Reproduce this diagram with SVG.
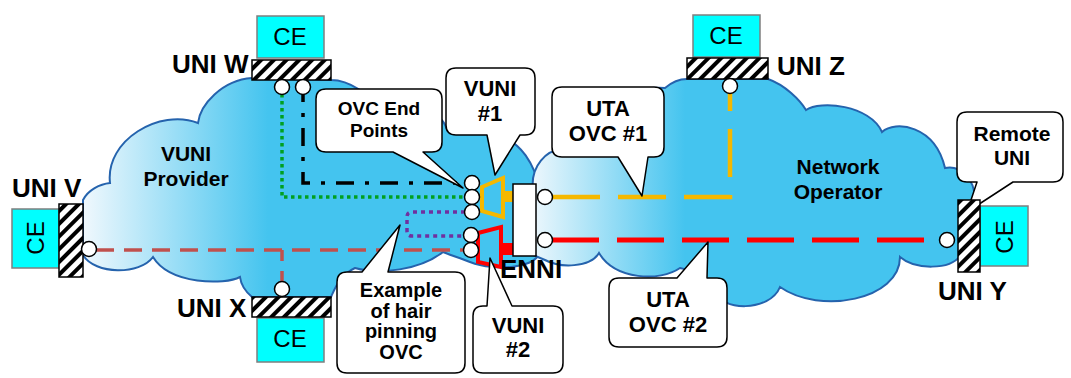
<svg xmlns="http://www.w3.org/2000/svg" width="1071" height="378" viewBox="0 0 1071 378">
<defs>
<linearGradient id="gL" gradientUnits="userSpaceOnUse" x1="83" y1="0" x2="268" y2="0"><stop offset="0" stop-color="#f0f8fd"/><stop offset="1" stop-color="#44c4ef"/></linearGradient>
<linearGradient id="gR" gradientUnits="userSpaceOnUse" x1="535" y1="0" x2="685" y2="0"><stop offset="0" stop-color="#eaf6fc"/><stop offset="1" stop-color="#44c4ef"/></linearGradient>
<pattern id="hatch" patternUnits="userSpaceOnUse" width="9" height="9" patternTransform="rotate(45)"><rect width="9" height="9" fill="#fff"/><rect width="4" height="9" fill="#000"/></pattern>
<style>
.cloud{stroke:#2563ad;stroke-width:2}
.hatch{fill:url(#hatch);stroke:#000;stroke-width:1.5}
.ce{fill:#00ffff;stroke:#7f7f7f;stroke-width:1.5}
.cet{font-family:"Liberation Sans",Arial,sans-serif;font-size:24px;fill:#000;text-anchor:middle}
.lbl{font-family:"Liberation Sans",Arial,sans-serif;font-size:26px;font-weight:bold;fill:#000}
.t{font-family:"Liberation Sans",Arial,sans-serif;font-weight:bold;fill:#000;text-anchor:middle}
.call{fill:#fff;stroke:#000;stroke-width:1.5;stroke-linejoin:round}
.ep{fill:#fff;stroke:#000;stroke-width:1.5}
.ln{fill:none}
</style>
</defs>
<rect width="1071" height="378" fill="#fff"/>

<g id="cloud-vuni-provider">
<path class="cloud" fill="url(#gL)" d="M83,200 C88,190 100,184 110,183 C105,140 160,108 198,123 C200,105 222,80 252,78 L331,80 C350,80 370,95 380,110 C400,100 440,105 447,130 C465,118 495,125 500,138 C520,140 535,165 540,190 L540,250 C540,268 495,272 470,262 C460,258 450,255 443,252 C420,270 380,275 355,268 C340,275 335,288 331,297 L252,297 C246,292 241,285 240,277 C225,285 170,285 153,257 C140,275 95,275 83,255 Z"/>
<text class="t" x="186" y="161" font-size="21">VUNI</text>
<text class="t" x="186" y="186" font-size="21">Provider</text>
</g>

<g id="cloud-network-operator">
<path class="cloud" fill="url(#gR)" d="M533,190 C530,165 548,150 560,150 C570,120 620,85 665,88 C672,82 680,79 687,79 L768,79 C785,85 800,100 806,110 C820,100 870,105 882,132 C895,120 935,125 945,168 C960,165 975,178 975,200 C978,225 975,250 960,256 C950,270 915,270 900,257 C900,300 820,315 780,287 C770,312 720,312 715,290 C705,275 690,270 680,268 C660,282 615,280 599,253 C590,268 560,268 545,260 L533,255 Z"/>
<text class="t" x="838" y="174" font-size="21">Network</text>
<text class="t" x="838" y="199" font-size="21">Operator</text>
</g>

<g id="connectors" class="ln">
<path d="M282,94 V197 H465" stroke="#00a020" stroke-width="3.5" stroke-dasharray="3.5 3.5"/>
<path d="M303,94 V183 H465" stroke="#000" stroke-width="3.5" stroke-dasharray="18 11 4 11" stroke-dashoffset="10"/>
<path d="M465,212 H412 Q407,212 407,217 V231 Q407,236 412,236 H463" stroke="#7030a0" stroke-width="3.5" stroke-dasharray="4 4"/>
<path d="M96,250 H463" stroke="#c0504d" stroke-width="3.5" stroke-dasharray="18 10"/>
<path d="M282,250 V282" stroke="#c0504d" stroke-width="3.5" stroke-dasharray="11 10"/>
<path d="M552,197 H730 V93" stroke="#f5b800" stroke-width="4.5" stroke-dasharray="48 18"/>
<path d="M552,240 H940" stroke="#ff0000" stroke-width="5" stroke-dasharray="47 18"/>
</g>

<g id="vuni1">
<rect x="502" y="191" width="11" height="11" fill="#f5b800"/>
<polygon points="482,187 503,178 503,217 482,211" fill="#44c4ef" stroke="#f5b800" stroke-width="4"/>
</g>
<g id="vuni2">
<rect x="500" y="243" width="13" height="12" fill="#ff0000"/>
<polygon points="478,233 501,227 501,267 478,262" fill="#44c4ef" stroke="#ff0000" stroke-width="4"/>
</g>

<g id="enni">
<rect x="513" y="184" width="23" height="72" fill="#fff" stroke="#000" stroke-width="1.5"/>
<text class="lbl" x="500" y="278" font-size="25">ENNI</text>
</g>

<g id="callout-ovc-end-points">
<path class="call" d="M326,89 H432 Q442,89 442,99 V142 Q442,152 432,152 H423 L463,188 L393,152 H326 Q316,152 316,142 V99 Q316,89 326,89 Z"/>
<text class="t" x="379" y="115" font-size="19">OVC End</text>
<text class="t" x="379" y="137" font-size="19">Points</text>
</g>
<g id="callout-vuni1">
<path class="call" d="M456,68 H525 Q535,68 535,78 V125 Q535,135 525,135 H520 L495,175 L487,135 H456 Q446,135 446,125 V78 Q446,68 456,68 Z"/>
<text class="t" x="490" y="96" font-size="22">VUNI</text>
<text class="t" x="490" y="121" font-size="22">#1</text>
</g>
<g id="callout-uta-ovc1">
<path class="call" d="M562,87 H654 Q664,87 664,97 V147 Q664,157 654,157 H648 L642,196 L618,157 H562 Q552,157 552,147 V97 Q552,87 562,87 Z"/>
<text class="t" x="608" y="116" font-size="22">UTA</text>
<text class="t" x="608" y="141" font-size="22">OVC #1</text>
</g>
<g id="callout-remote-uni">
<path class="call" d="M967,112 H1053 Q1063,112 1063,122 V172 Q1063,182 1053,182 H1013 L967,212 L977,182 H967 Q957,182 957,172 V122 Q957,112 967,112 Z"/>
<text class="t" x="1012" y="141" font-size="21">Remote</text>
<text class="t" x="1012" y="165" font-size="21">UNI</text>
</g>
<g id="callout-example">
<path class="call" d="M347,272 H362 L400,225 L388,272 H455 Q465,272 465,282 V363 Q465,373 455,373 H347 Q337,373 337,363 V282 Q337,272 347,272 Z"/>
<text class="t" x="401" y="297" font-size="20">Example</text>
<text class="t" x="401" y="318" font-size="20">of hair</text>
<text class="t" x="401" y="338" font-size="20">pinning</text>
<text class="t" x="401" y="359" font-size="20">OVC</text>
</g>
<g id="callout-vuni2">
<path class="call" d="M483,306 H487 L490,258 L512,306 H553 Q563,306 563,316 V363 Q563,373 553,373 H483 Q473,373 473,363 V316 Q473,306 483,306 Z"/>
<text class="t" x="518" y="333" font-size="22">VUNI</text>
<text class="t" x="518" y="357" font-size="22">#2</text>
</g>
<g id="callout-uta-ovc2">
<path class="call" d="M619,278 H677 L708,242 L707,278 H717 Q727,278 727,288 V337 Q727,347 717,347 H619 Q609,347 609,337 V288 Q609,278 619,278 Z"/>
<text class="t" x="668" y="307" font-size="22">UTA</text>
<text class="t" x="668" y="332" font-size="22">OVC #2</text>
</g>

<g id="uni-w">
<rect class="ce" x="257" y="16" width="67" height="42"/>
<text class="cet" x="290" y="45">CE</text>
<rect class="hatch" x="252" y="60" width="79" height="20"/>
<text class="lbl" x="172" y="73">UNI W</text>
</g>
<g id="uni-x">
<rect class="ce" x="257" y="318" width="67" height="44"/>
<text class="cet" x="290" y="347">CE</text>
<rect class="hatch" x="252" y="297" width="79" height="20"/>
<text class="lbl" x="177" y="317">UNI X</text>
</g>
<g id="uni-v">
<rect class="ce" x="12" y="209" width="47" height="59"/>
<text class="cet" transform="translate(44,238) rotate(-90)">CE</text>
<rect class="hatch" x="59" y="204" width="24" height="73"/>
<text class="lbl" x="12" y="197">UNI V</text>
</g>
<g id="uni-z">
<rect class="ce" x="693" y="15" width="67" height="42"/>
<text class="cet" x="726" y="44">CE</text>
<rect class="hatch" x="687" y="58" width="81" height="21"/>
<text class="lbl" x="777" y="75">UNI Z</text>
</g>
<g id="uni-y">
<rect class="ce" x="980" y="206" width="48" height="60"/>
<text class="cet" transform="translate(1013,237) rotate(-90)">CE</text>
<rect class="hatch" x="958" y="200" width="22" height="72"/>
<text class="lbl" x="938" y="300">UNI Y</text>
</g>

<g id="endpoints">
<circle class="ep" cx="282" cy="87" r="7.5"/>
<circle class="ep" cx="303" cy="87" r="7.5"/>
<circle class="ep" cx="89" cy="249" r="7.5"/>
<circle class="ep" cx="282" cy="289" r="7.5"/>
<circle class="ep" cx="472" cy="183" r="7.5"/>
<circle class="ep" cx="472" cy="197" r="7.5"/>
<circle class="ep" cx="472" cy="212" r="7.5"/>
<circle class="ep" cx="471" cy="235" r="7.5"/>
<circle class="ep" cx="471" cy="250" r="7.5"/>
<circle class="ep" cx="545" cy="197" r="7.5"/>
<circle class="ep" cx="545" cy="240" r="7.5"/>
<circle class="ep" cx="730" cy="86" r="7.5"/>
<circle class="ep" cx="947" cy="240" r="7.5"/>
</g>
</svg>
